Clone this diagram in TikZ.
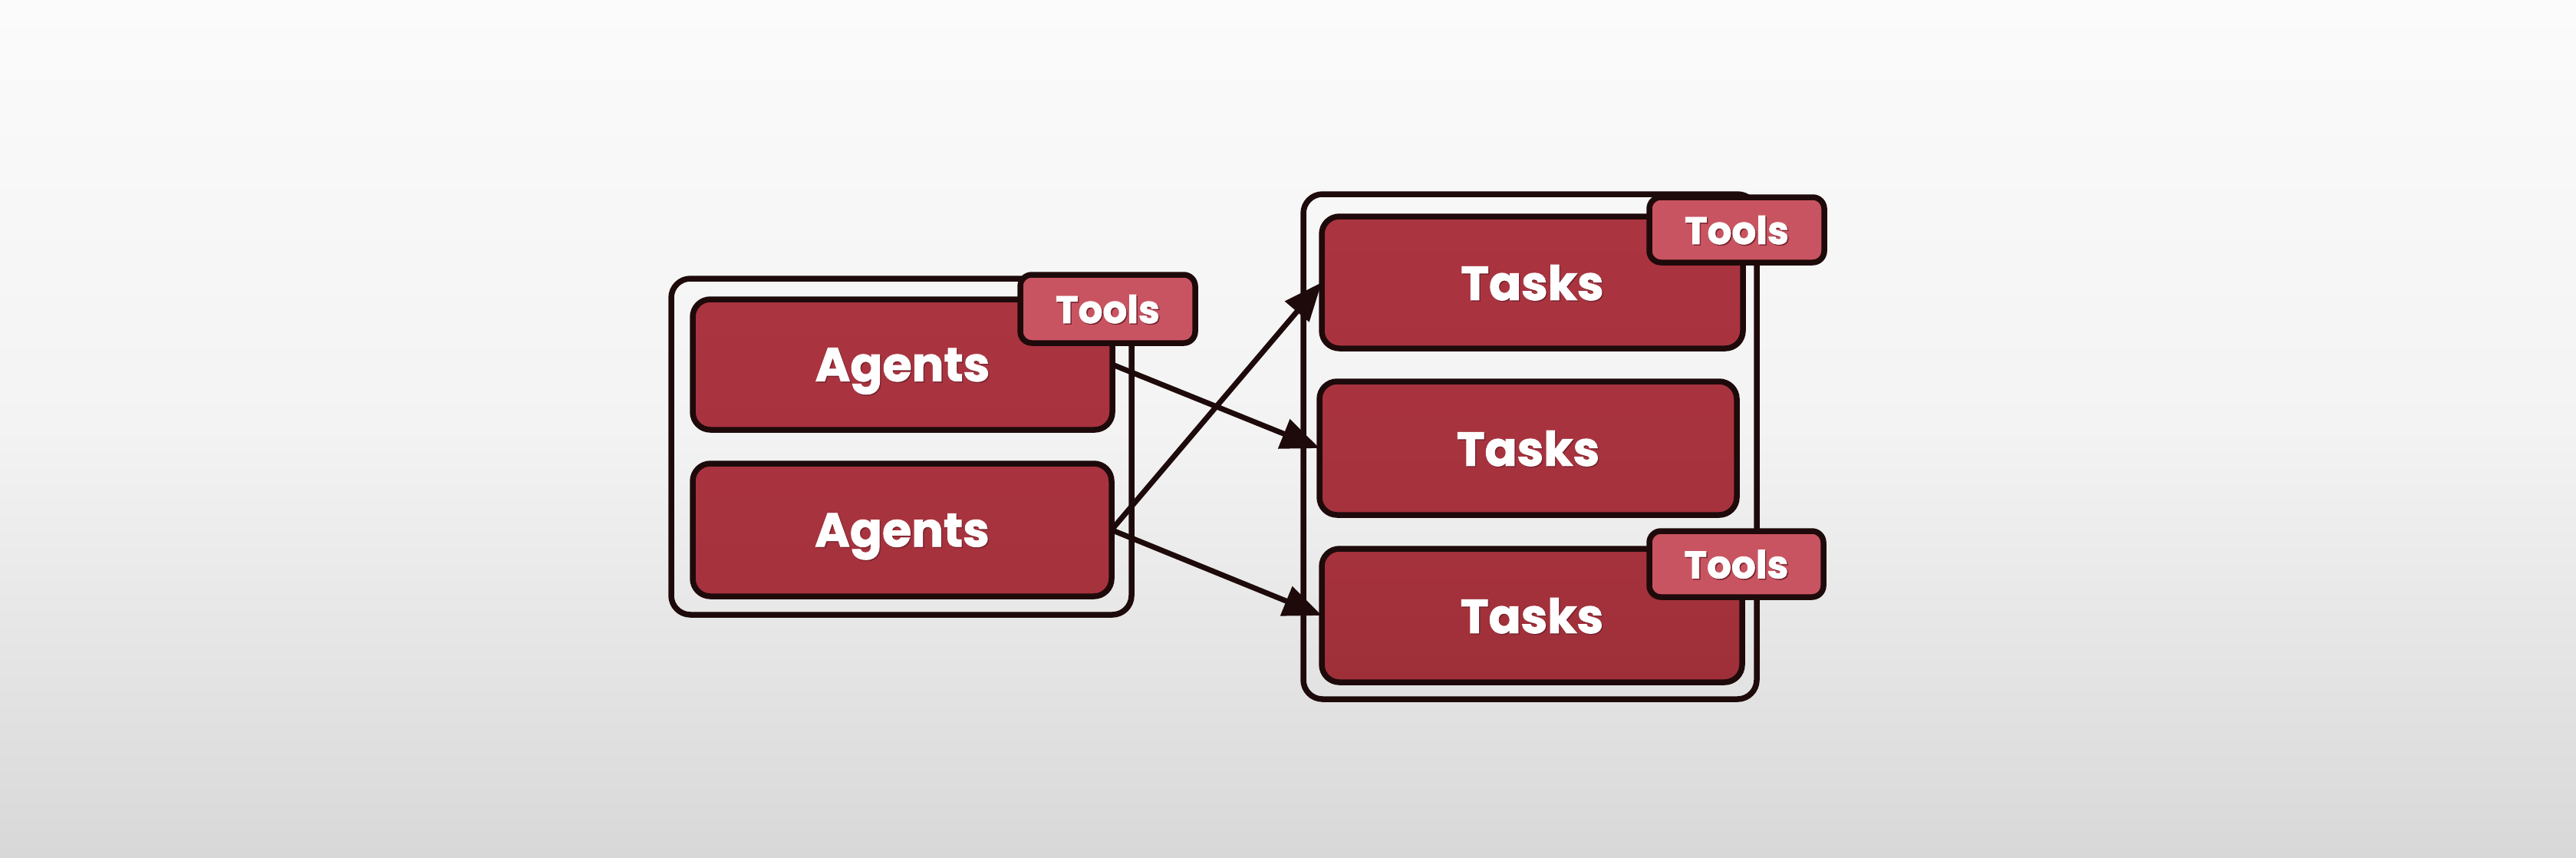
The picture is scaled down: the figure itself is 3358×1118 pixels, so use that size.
\documentclass[tikz,border=0pt]{standalone}
\usepackage{fontspec}
\newfontfamily\pop{Poppins}[BoldFeatures={FakeBold=1.5}]
\usetikzlibrary{arrows.meta}
\definecolor{bgtop}{HTML}{FBFBFB}
\definecolor{bgmid}{HTML}{F3F3F3}
\definecolor{bgbot}{HTML}{D8D8D8}
\definecolor{edge}{HTML}{1E0A0A}
\definecolor{boxtop}{HTML}{AA3440}
\definecolor{boxbot}{HTML}{9E2F38}
\definecolor{toolfill}{HTML}{C95461}
\definecolor{txtshadow}{HTML}{7A2530}
\newcommand\shtxt[1]{\leavevmode\rlap{\kern1.5pt\raisebox{-1.5pt}{\textcolor{txtshadow}{#1}}}#1}
\tikzset{
  container/.style={draw=edge, line width=7.5pt, rounded corners=25pt, inner sep=0pt, outer sep=0pt},
  mainbox/.style={draw=edge, line width=7.5pt, rounded corners=23pt, inner sep=0pt, outer sep=0pt,
    top color=boxtop, bottom color=boxtop!85!boxbot, text=white, text depth=0pt,
    font=\pop\bfseries\fontsize{62}{70}\selectfont},
  lowbox/.style={mainbox, top color=boxtop!60!boxbot, bottom color=boxbot},
  toolbox/.style={draw=edge, line width=7.5pt, rounded corners=15pt, inner sep=0pt, outer sep=0pt,
    fill=toolfill, text=white, text depth=0pt, font=\pop\bfseries\fontsize{50}{56}\selectfont},
  conn/.style={draw=edge, line width=7pt, -{Triangle[length=50pt,width=40pt]}}
}
\begin{document}
\begin{tikzpicture}[x=1pt,y=-1pt]
\useasboundingbox (0,0) rectangle (3358,1118);
\shade[top color=bgtop, bottom color=bgmid] (0,0) rectangle (3358,560);
\shade[top color=bgmid, bottom color=bgbot] (0,559) rectangle (3358,1118);
% containers
\node[container, minimum width=600pt, minimum height=438pt] (lc) at (1175,582) {};
\node[container, minimum width=591pt, minimum height=658pt] (rc) at (1994.5,582) {};
% agents
\node[mainbox, minimum width=547pt, minimum height=170pt] (a1) at (1176.5,475) {\shtxt{Agents}};
\node[mainbox, top color=boxtop!85!boxbot, bottom color=boxtop!60!boxbot, minimum width=546pt, minimum height=173pt] (a2) at (1176,690.5) {\shtxt{Agents}};
% tasks
\node[mainbox, minimum width=549pt, minimum height=172pt] (t1) at (1997.5,368) {\shtxt{Tasks}};
\node[mainbox, top color=boxtop!85!boxbot, bottom color=boxtop!60!boxbot, minimum width=544pt, minimum height=174pt] (t2) at (1992,584) {\shtxt{Tasks}};
\node[lowbox, minimum width=548pt, minimum height=174pt] (t3) at (1997,802) {\shtxt{Tasks}};
% tools
\node[toolbox, minimum width=228pt, minimum height=89pt] (tl) at (1444,402.5) {\shtxt{Tools}};
\node[toolbox, minimum width=228pt, minimum height=85pt] (ttr) at (2264,299.5) {\shtxt{Tools}};
\node[toolbox, minimum width=227pt, minimum height=86pt] (tbr) at (2263.5,735) {\shtxt{Tools}};
% connectors
\draw[conn] (a1.east) -- (t2.west);
\draw[conn] (a2.east) -- (t1.west);
\draw[conn] (a2.east) -- (t3.west);
\end{tikzpicture}
\end{document}
